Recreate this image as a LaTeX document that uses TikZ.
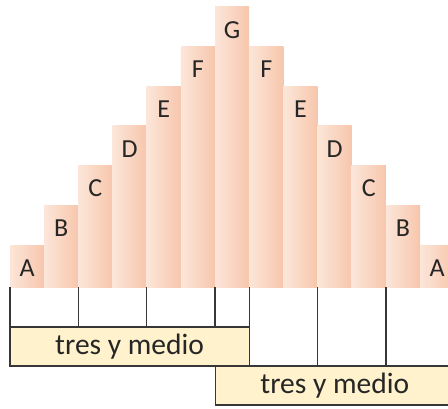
\documentclass[tikz,border=0pt]{standalone}
\usepackage{fontspec}
\setmainfont{Carlito}
\usepackage{tikz}
\usetikzlibrary{positioning,calc}

\definecolor{barlight}{RGB}{252,230,217}
\definecolor{bardark}{RGB}{247,198,172}
\definecolor{boxfill}{RGB}{255,242,204}
\definecolor{lineclr}{RGB}{55,55,55}

\begin{document}
\begin{tikzpicture}[
    x=1pt, y=1pt,
    every node/.style={text=black!85},
    bar/.style={anchor=south west, inner sep=0pt, outer sep=0pt, minimum width=34.17pt, left color=barlight, right color=bardark},
    letter/.style={inner sep=0pt, font=\fontsize{26}{28}\selectfont},
    halfbox/.style={draw=lineclr, line width=1.3pt, fill=boxfill, inner sep=0pt, minimum width=239.2pt, minimum height=39pt, font=\fontsize{29.5}{31}\selectfont},
    tick/.style={draw=lineclr, line width=1.3pt}
]
\useasboundingbox (0,0) rectangle (448,408);
\clip (0,0) rectangle (448,408);

% staircase of bars
\foreach \name [count=\i from 0] in {A,B,C,D,E,F,G,F,E,D,C,B,A}{
    \pgfmathsetmacro{\lvl}{6-abs(\i-6)}
    \node[bar, minimum height={42pt+\lvl*39.7pt}] (bar\i) at ({10+\i*34.17},121) {};
    \node[letter] (lab\i) at ([yshift=-23pt]bar\i.north) {\name};
}

% the two halves
\node[halfbox] (half1) at (129.6,61.5) {tres y medio};
\node[halfbox] (half2) at (334.8,22.5) {tres y medio};

% ticks under the bars
\foreach \i in {0,2,4,6,7}{
    \draw[tick] (bar\i.south west) -- (bar\i.south west |- half1.north);
}
\foreach \i in {9,11}{
    \draw[tick] (bar\i.south west) -- (bar\i.south west |- half2.north);
}

\end{tikzpicture}
\end{document}
